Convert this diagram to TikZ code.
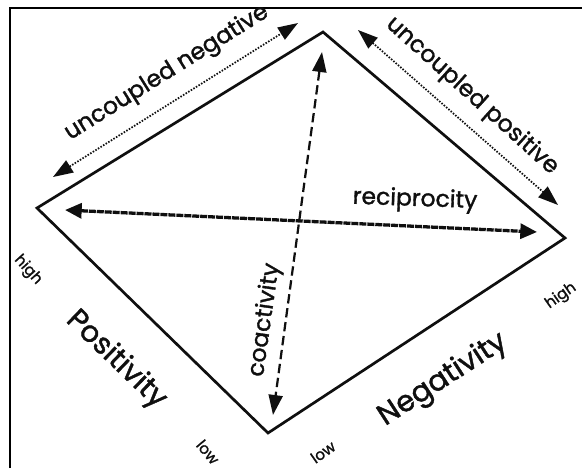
\documentclass[tikz,border=0pt]{standalone}
\usepackage{fontspec}
\setmainfont{Poppins}[FakeBold=1.4]
\usepackage{tikz}
\usetikzlibrary{arrows.meta}
\definecolor{ink}{RGB}{15,15,15}
\tikzset{
  edge/.style={line width=2.3pt, color=ink, line join=miter},
  dotarrow/.style={{Triangle[length=0.6cm,width=0.42cm]}-{Triangle[length=0.6cm,width=0.42cm]},
    line width=1.5pt, dash pattern=on 1.3pt off 1.3pt, color=ink},
  recarrow/.style={{Triangle[length=0.5cm,width=0.45cm]}-{Triangle[length=0.5cm,width=0.45cm]},
    line width=2.8pt, dash pattern=on 6pt off 0.8pt, color=ink},
  dasharrow/.style={{Triangle[length=0.6cm,width=0.42cm]}-{Triangle[length=0.6cm,width=0.42cm]},
    line width=1.9pt, dash pattern=on 8pt off 4pt, color=ink},
  lbl/.style={font=\fontsize{20}{24}\selectfont, inner sep=0pt, color=ink},
  axislbl/.style={font=\fontsize{25}{30}\selectfont, inner sep=0pt, color=ink},
  endlbl/.style={font=\fontsize{13}{15}\selectfont, inner sep=0pt, color=ink}
}

\begin{document}
\begin{tikzpicture}[x=0.03cm, y=-0.03cm]
\useasboundingbox (0,0) rectangle (582,468);
% frame
\draw[line width=2.4pt] (10,468) -- (10,8) -- (582,8);
% corners of the diamond
\coordinate (L) at (37,208);
\coordinate (T) at (323,32);
\coordinate (R) at (565,238);
\coordinate (B) at (268,433);
\draw[edge] (L) -- (T) -- (R) -- (B) -- cycle;
% arrow ends
\coordinate (negA) at (53,177);
\coordinate (negB) at (298,23);
\coordinate (posA) at (358,30);
\coordinate (posB) at (558,205);
\coordinate (recA) at (65,210);
\coordinate (recB) at (537,232);
\coordinate (coaA) at (322,52);
\coordinate (coaB) at (273,415);
\draw[dotarrow] (negA) -- (negB);
\draw[dotarrow] (posA) -- (posB);
\draw[recarrow] (recA) -- (recB);
\draw[dasharrow] (coaA) -- (coaB);
% labels
\node[lbl, rotate=32] (unneg) at (167,73) {uncoupled negative};
\node[lbl, rotate=-42] (unpos) at (472,96) {uncoupled positive};
\node[lbl, rotate=-2] (recip) at (415,200) {reciprocity};
\node[lbl, rotate=82] (coact) at (265,320) {coactivity};
\node[axislbl, rotate=-44] (posaxis) at (116,360) {Positivity};
\node[axislbl, rotate=33] (negaxis) at (443,380) {Negativity};
\node[endlbl, rotate=-48] (phigh) at (28,270) {high};
\node[endlbl, rotate=-50] (plow) at (208,452) {low};
\node[endlbl, rotate=35] (nlow) at (323,452) {low};
\node[endlbl, rotate=35] (nhigh) at (561,296) {high};
\end{tikzpicture}
\end{document}
